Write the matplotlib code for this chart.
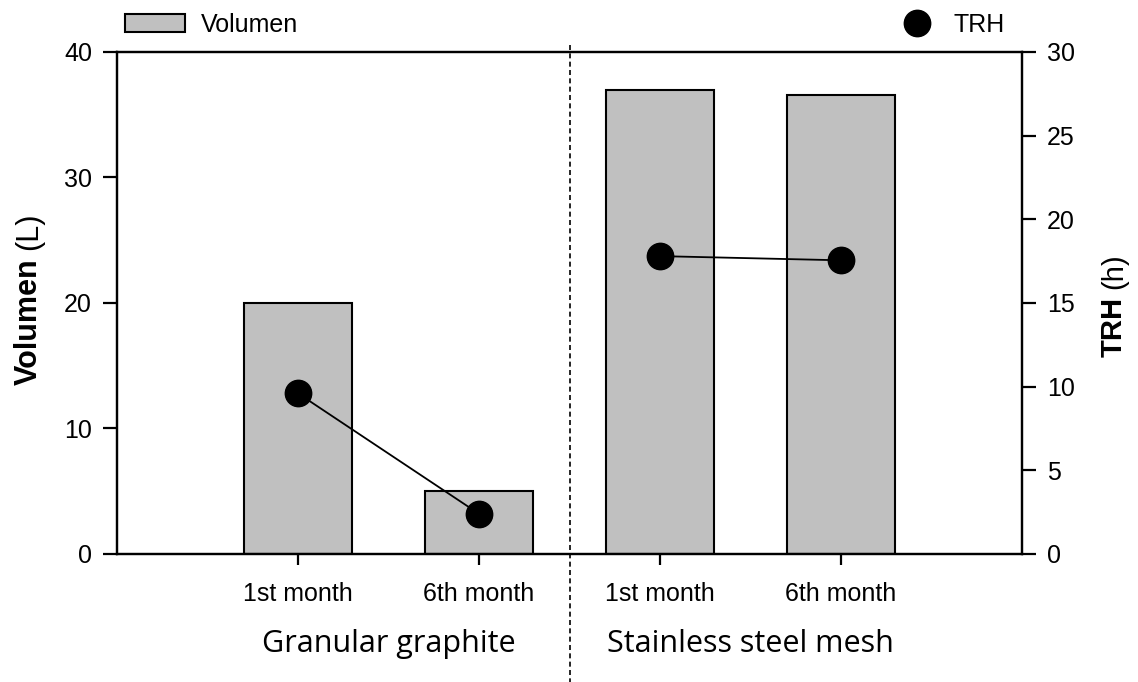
import matplotlib
matplotlib.use('Agg')
import matplotlib.pyplot as plt
from matplotlib.lines import Line2D
from matplotlib.patches import Patch
import matplotlib.transforms as mtransforms

plt.rcParams['font.family'] = ['Liberation Sans', 'DejaVu Sans']

# data
months = ['1st month', '6th month', '1st month', '6th month']
groups = ['Granular graphite', 'Stainless steel mesh']
volumen = [20.0, 5.0, 37.0, 36.6]
trh = [9.6, 2.4, 17.8, 17.55]

positions = [1, 2, 3, 4]

fig = plt.figure(figsize=(11.38, 6.82), dpi=100)
ax = fig.add_axes([0.1028, 0.1877, 0.7953, 0.7361])
ax2 = ax.twinx()

ax.bar(positions, volumen, width=0.6, color='#c0c0c0', edgecolor='black',
       linewidth=1.5, zorder=2)

# TRH points, joined within each group
ax2.plot(positions[:2], trh[:2], color='black', lw=1.3, marker='o',
         markersize=19, zorder=3)
ax2.plot(positions[2:], trh[2:], color='black', lw=1.3, marker='o',
         markersize=19, zorder=3)

ax.set_xlim(0, 5)
ax.set_ylim(0, 40)
ax2.set_ylim(0, 30)
ax.set_yticks([0, 10, 20, 30, 40])
ax2.set_yticks([0, 5, 10, 15, 20, 25, 30])
ax.set_xticks(positions)
ax.set_xticklabels(months)

for a in (ax, ax2):
    for s in a.spines.values():
        s.set_linewidth(1.6)
ax.tick_params(axis='both', direction='out', length=10, width=1.6,
               labelsize=18, pad=8)
ax.tick_params(axis='x', length=8, pad=12)
ax2.tick_params(axis='y', direction='out', length=10, width=1.6,
                labelsize=18, pad=8)

# axis titles: bold name + plain unit
kw = dict(rotation=90, rotation_mode='anchor', va='baseline')
fig.text(0.0325, 0.6217, 'Volumen', ha='right', fontsize=22,
         fontweight='bold', **kw)
fig.text(0.0325, 0.6334, '(L)', ha='left', fontsize=22, **kw)
fig.text(0.986, 0.5645, 'TRH', ha='right', fontsize=21,
         fontweight='bold', **kw)
fig.text(0.986, 0.5762, '(h)', ha='left', fontsize=21, **kw)

# separator between groups
trans = mtransforms.blended_transform_factory(ax.transData, ax.transAxes)
ax.plot([2.5, 2.5], [1.014, -0.255], transform=trans, color='black',
        lw=1.2, ls=(0, (3, 2)), clip_on=False, zorder=4)

# group labels
for g, x in zip(groups, [1.5, 3.5]):
    ax.text(x, -0.18, g, transform=trans, ha='center', va='center',
            fontsize=22, family=['Open Sans', 'DejaVu Sans'])

# legends
leg1 = ax.legend(handles=[Patch(facecolor='#c0c0c0', edgecolor='black',
                                linewidth=1.5, label='Volumen')],
                 loc='lower left', bbox_to_anchor=(-0.01, 0.995),
                 frameon=False, fontsize=18, handlelength=2.4,
                 handleheight=0.75, handletextpad=0.6, borderpad=0.2)
leg2 = ax2.legend(handles=[Line2D([], [], ls='none', marker='o', color='black',
                                  markersize=19, label='TRH')],
                  loc='lower right', bbox_to_anchor=(1.0, 0.995),
                  frameon=False, fontsize=18, handlelength=1.5,
                  handletextpad=0.7, borderpad=0.2)

fig.savefig('out.png', dpi=100)
